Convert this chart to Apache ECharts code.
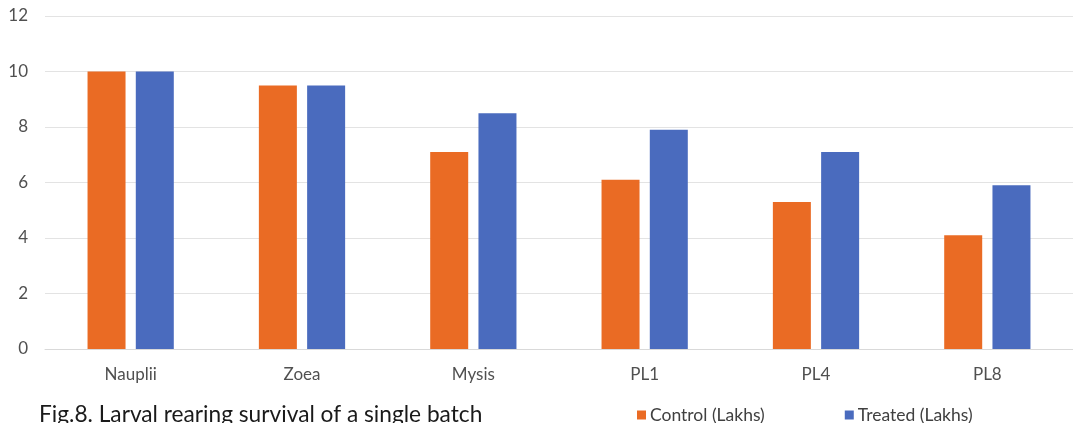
<!DOCTYPE html>
<html>
<head>
<meta charset="utf-8">
<script src="https://cdn.jsdelivr.net/npm/echarts@6/dist/echarts.min.js"></script>
<style>
  html, body { margin: 0; padding: 0; background: #fff; }
  #chart { width: 1073px; height: 423px; }
</style>
</head>
<body>
<div id="chart"></div>
<script>
const categories = ['Nauplii', 'Zoea', 'Mysis', 'PL1', 'PL4', 'PL8'];
const controlValues = [10, 9.5, 7.1, 6.1, 5.3, 4.1];
const treatedValues = [10, 9.5, 8.5, 7.9, 7.1, 5.9];
const seriesNames = ['Control (Lakhs)', 'Treated (Lakhs)'];
const titleText = 'Fig.8. Larval rearing survival of a single batch';

const chart = echarts.init(document.getElementById('chart'), null, { renderer: 'canvas' });
const font = 'Lato, "Open Sans", "DejaVu Sans", sans-serif';
chart.setOption({
  animation: false,
  backgroundColor: '#ffffff',
  title: {
    text: titleText,
    left: 34,
    top: 398,
    textStyle: { fontFamily: font, fontSize: 22.7, fontWeight: 'normal', color: '#1a1a1a' }
  },
  legend: {
    data: seriesNames,
    left: 632,
    top: 401,
    itemWidth: 9,
    itemHeight: 9,
    itemGap: 80,
    icon: 'rect',
    textStyle: { fontFamily: font, fontSize: 17.5, color: '#404040', padding: [0, 0, 0, -1] }
  },
  grid: { left: 45, right: 0, top: 16, bottom: 74, containLabel: false },
  xAxis: {
    type: 'category',
    data: categories,
    axisLine: { show: true, lineStyle: { color: '#d9d9d9', width: 1 } },
    axisTick: { show: false },
    axisLabel: { fontFamily: font, fontSize: 17, color: '#505050', margin: 17 }
  },
  yAxis: {
    type: 'value',
    min: 0,
    max: 12,
    interval: 2,
    axisLine: { show: false },
    axisTick: { show: false },
    splitLine: { lineStyle: { color: '#e3e3e3', width: 1 } },
    axisLabel: { fontFamily: font, fontSize: 17, color: '#505050', margin: 17 }
  },
  series: [
    {
      name: seriesNames[0],
      type: 'bar',
      data: controlValues,
      barWidth: 38,
      barGap: '27%',
      itemStyle: { color: '#EA6B24' }
    },
    {
      name: seriesNames[1],
      type: 'bar',
      data: treatedValues,
      barWidth: 38,
      barGap: '27%',
      itemStyle: { color: '#4A6BBE' }
    }
  ]
});
</script>
</body>
</html>
